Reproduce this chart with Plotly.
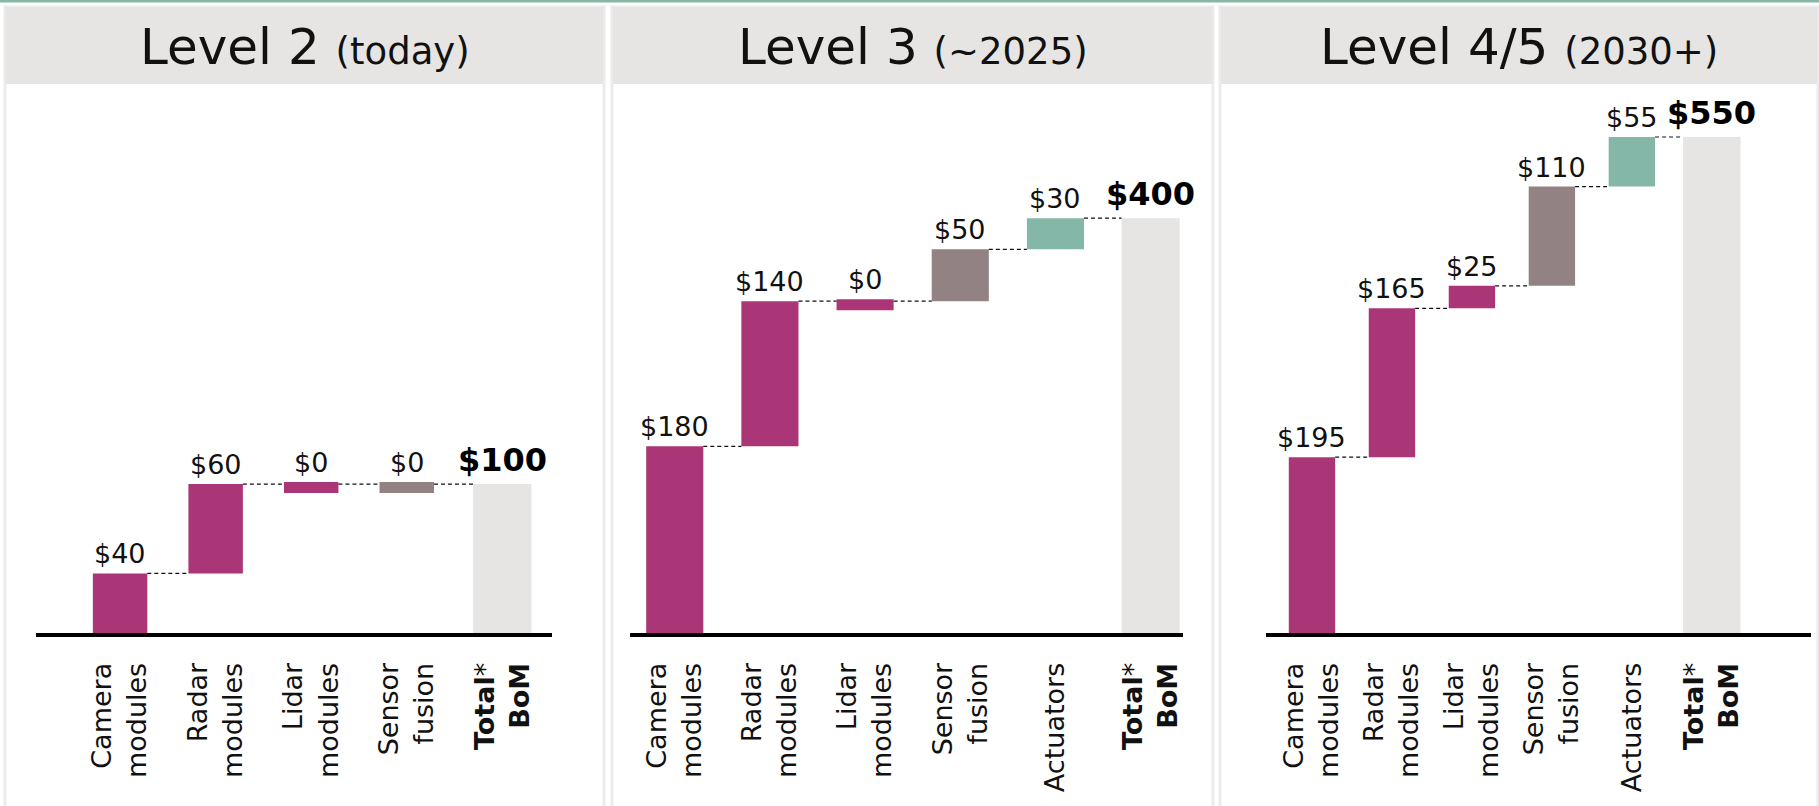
import plotly.graph_objects as go

W, H = 1819, 806

# ---------------- data ----------------
panel_titles = ["Level 2", "Level 3", "Level 4/5"]
panel_subtitles = ["(today)", "(~2025)", "(2030+)"]

l2_categories = ["Camera<br>modules", "Radar<br>modules", "Lidar<br>modules", "Sensor<br>fusion"]
l2_values = [40, 60, 0, 0]
l2_total = 100

l3_categories = ["Camera<br>modules", "Radar<br>modules", "Lidar<br>modules", "Sensor<br>fusion", "Actuators"]
l3_values = [180, 140, 0, 50, 30]
l3_total = 400

l45_categories = ["Camera<br>modules", "Radar<br>modules", "Lidar<br>modules", "Sensor<br>fusion", "Actuators"]
l45_values = [195, 165, 25, 110, 55]
l45_total = 550

total_label = "<b>Total</b>*<br><b>BoM</b>"

# ---------------- styles ----------------
MAGENTA = "#AA3677"
MAUVE = "#928284"
TEAL = "#84B7A7"
TOTAL_GREY = "#E6E5E3"
HEADER_GREY = "#E6E5E3"
BORDER_GREY = "#EBEBEB"
TOP_LINE = "#86B8A8"

color_for = {
    "Camera<br>modules": MAGENTA,
    "Radar<br>modules": MAGENTA,
    "Lidar<br>modules": MAGENTA,
    "Sensor<br>fusion": MAUVE,
    "Actuators": TEAL,
}

FONT = "DejaVu Sans"

# layout geometry in pixels
AXIS_Y_PX = 633
PLOT_TOP_PX = 100
PLOT_H_PX = AXIS_Y_PX - PLOT_TOP_PX

panels = [
    dict(cats=l2_categories, vals=l2_values, total=l2_total,
         box=(5, 604), dom=(36, 552), xr=(-0.88, 4.52), ymax=358, w=0.57, wt=0.61),
    dict(cats=l3_categories, vals=l3_values, total=l3_total,
         box=(612, 1213), dom=(630, 1183), xr=(-0.47, 5.34), ymax=514, w=0.6, wt=0.61),
    dict(cats=l45_categories, vals=l45_values, total=l45_total,
         box=(1220, 1818), dom=(1266, 1811), xr=(-0.575, 6.24), ymax=591, w=0.58, wt=0.72),
]

def py(px):
    return 1 - px / H

fig = go.Figure()
shapes = []
annotations = []
layout_axes = {}

# top teal line
shapes.append(dict(type="rect", xref="paper", yref="paper", x0=0, x1=1,
                   y0=py(2.5), y1=1, fillcolor=TOP_LINE, line=dict(width=0), layer="below"))

for k, p in enumerate(panels):
    sfx = "" if k == 0 else str(k + 1)
    xname, yname = "x" + sfx, "y" + sfx
    cats, vals, total = p["cats"], p["vals"], p["total"]
    n = len(cats)
    ppu = PLOT_H_PX / p["ymax"]  # pixels per unit
    stub_top = 2 / ppu
    stub_h = 11 / ppu

    xs, bases, heights, colors, widths, tops = [], [], [], [], [], []
    cum = 0
    levels = []
    for i, (c, v) in enumerate(zip(cats, vals)):
        xs.append(i)
        colors.append(color_for[c])
        widths.append(p["w"])
        if v == 0:
            bases.append(cum + stub_top)
            heights.append(-stub_h)
            tops.append(cum + stub_top)
        else:
            bases.append(cum)
            heights.append(v)
            tops.append(cum + v)
        cum += v
        levels.append(cum)
    # total bar
    xs.append(n)
    bases.append(0)
    heights.append(total)
    colors.append(TOTAL_GREY)
    widths.append(p["wt"])
    tops.append(total)

    fig.add_trace(go.Bar(x=xs, y=heights, base=bases, width=widths,
                         marker=dict(color=colors, line=dict(width=0)),
                         xaxis=xname, yaxis=yname, showlegend=False, hoverinfo="skip"))

    # connectors
    cx, cy = [], []
    for i in range(n):
        x0 = i + widths[i] / 2
        x1 = i + 1 - widths[i + 1] / 2
        cx += [x0, x1, None]
        cy += [levels[i], levels[i], None]
    fig.add_trace(go.Scatter(x=cx, y=cy, mode="lines",
                             line=dict(color="#111111", width=1.2, dash="4px,3px"),
                             xaxis=xname, yaxis=yname, showlegend=False, hoverinfo="skip"))

    # value labels
    for i, v in enumerate(vals):
        annotations.append(dict(x=i, y=tops[i], xref=xname, yref=yname, text=f"${v}",
                                showarrow=False, yanchor="bottom", yshift=2,
                                font=dict(family=FONT, size=27, color="#111111")))
    annotations.append(dict(x=n, y=total, xref=xname, yref=yname, text=f"<b>${total}</b>",
                            showarrow=False, yanchor="bottom", yshift=3,
                            font=dict(family=FONT, size=32, color="#000000")))

    layout_axes["xaxis" + sfx] = dict(
        domain=[p["dom"][0] / W, p["dom"][1] / W], range=list(p["xr"]),
        tickmode="array", tickvals=list(range(n + 1)), ticktext=cats + [total_label],
        tickangle=-90, showline=True, linecolor="black", linewidth=4,
        showgrid=False, zeroline=False, ticks="outside", ticklen=15,
        tickcolor="rgba(0,0,0,0)", tickfont=dict(family=FONT, size=27, color="#111111"),
        anchor=yname, fixedrange=True)
    layout_axes["yaxis" + sfx] = dict(
        domain=[py(AXIS_Y_PX), py(PLOT_TOP_PX)], range=[0, p["ymax"]],
        visible=False, anchor=xname, fixedrange=True)

    # panel border and header
    bx0, bx1 = p["box"]
    shapes.append(dict(type="rect", xref="paper", yref="paper", x0=bx0 / W, x1=bx1 / W,
                       y0=py(810), y1=py(7), fillcolor="rgba(0,0,0,0)",
                       line=dict(color=BORDER_GREY, width=3), layer="below"))
    shapes.append(dict(type="rect", xref="paper", yref="paper", x0=(bx0 + 1) / W, x1=(bx1 - 1) / W,
                       y0=py(84), y1=py(7), fillcolor=HEADER_GREY,
                       line=dict(width=0), layer="below"))
    annotations.append(dict(
        x=(bx0 + bx1) / 2 / W, y=py(47), xref="paper", yref="paper",
        text=f"{panel_titles[k]} <span style='font-size:37px'>{panel_subtitles[k]}</span>",
        showarrow=False, xanchor="center", yanchor="middle",
        font=dict(family=FONT, size=50, color="#111111")))

fig.update_layout(
    width=W, height=H, autosize=False,
    margin=dict(l=0, r=0, t=0, b=0),
    paper_bgcolor="white", plot_bgcolor="rgba(0,0,0,0)",
    barmode="overlay", shapes=shapes, annotations=annotations,
    **layout_axes,
)

fig.write_html("out.html", config={"displayModeBar": False},
               post_script="document.body.style.margin='0';document.body.style.overflow='hidden';")
